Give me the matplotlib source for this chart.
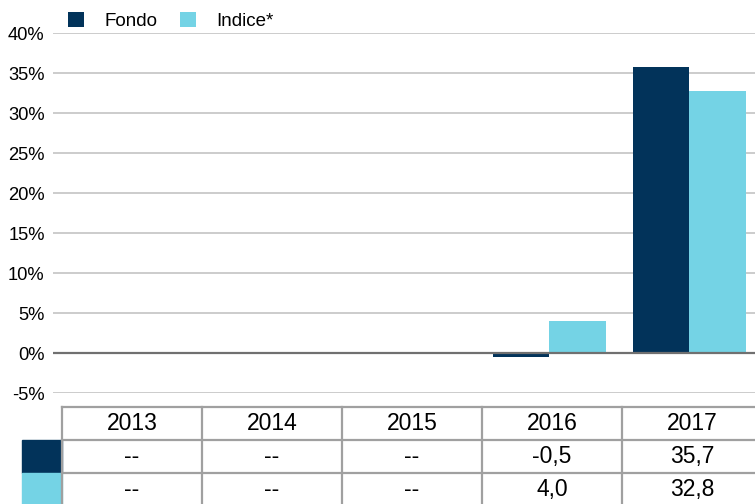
import numpy as np
import matplotlib
matplotlib.use("Agg")
import matplotlib.pyplot as plt
from matplotlib.patches import Rectangle

plt.rcParams['font.family'] = ['Liberation Sans', 'DejaVu Sans']
plt.rcParams['axes.unicode_minus'] = False

years = ['2013', '2014', '2015', '2016', '2017']
fondo = [np.nan, np.nan, np.nan, -0.5, 35.7]
indice = [np.nan, np.nan, np.nan, 4.0, 32.8]
fondo_txt = ['--', '--', '--', '-0,5', '35,7']
indice_txt = ['--', '--', '--', '4,0', '32,8']
yticks = [-5, 0, 5, 10, 15, 20, 25, 30, 35, 40]

c_fondo = '#02335a'
c_indice = '#74d3e5'
c_grid = '#c8c8c8'
c_table = '#a0a0a0'

W, H = 755, 504
fig = plt.figure(figsize=(W / 100, H / 100), dpi=100)

# main axes: pixels 53..755 horizontally, 33..393 vertically
ax = fig.add_axes([53 / W, (H - 393) / H, 702 / W, 360 / H])
xmin = -0.5 - 9 / 140
xmax = xmin + 702 / 140
x = np.arange(len(years)) - 0.018

b1 = ax.bar(x - 0.2, fondo, width=0.4, color=c_fondo, label='Fondo', zorder=3)
b2 = ax.bar(x + 0.2, indice, width=0.41, color=c_indice, label='Indice*', zorder=3)

ax.set_xlim(xmin, xmax)
ax.set_ylim(-5, 40)
ax.set_yticks(yticks)
ax.set_yticklabels([f'{t}%' for t in yticks], fontsize=13.2)
ax.set_xticks([])
for t in yticks:
    if t == 0:
        ax.axhline(t, color='#707070', lw=1.6, zorder=4)
    else:
        ax.axhline(t, color=c_grid, lw=1.3, zorder=1)
for s in ax.spines.values():
    s.set_visible(False)
ax.tick_params(axis='y', length=0, pad=6)
ax.patch.set_alpha(0)

fig.legend(handles=[b1, b2], loc='upper left', bbox_to_anchor=(68 / W, 1 - 12 / H),
           ncol=2, frameon=False, fontsize=13.5, handlelength=0.85, handleheight=0.85,
           handletextpad=1.1, columnspacing=1.2, borderpad=0, borderaxespad=0)

# data table below the plot
tab = fig.add_axes([53 / W, (H - 506) / H, 702 / W, 99 / H])
tab.set_xlim(xmin, xmax)
tab.set_ylim(3, 0)
tab.axis('off')
n = len(years)
for r in range(4):
    tab.plot([-0.5, n - 0.5], [r, r], color=c_table, lw=1.6, clip_on=False)
for cidx in range(n + 1):
    tab.plot([cidx - 0.5, cidx - 0.5], [0, 3], color=c_table, lw=1.6, clip_on=False)
tab.add_patch(Rectangle((-0.5 - 40 / 140, 1), 40 / 140, 1, color=c_fondo, clip_on=False))
tab.add_patch(Rectangle((-0.5 - 40 / 140, 2), 40 / 140, 1, color=c_indice, clip_on=False))
for i in range(n):
    tab.text(i, 0.5, years[i], ha='center', va='center', fontsize=16.5)
    tab.text(i, 1.5, fondo_txt[i], ha='center', va='center', fontsize=16.5)
    tab.text(i, 2.5, indice_txt[i], ha='center', va='center', fontsize=16.5)

fig.savefig('out.png', dpi=100)
